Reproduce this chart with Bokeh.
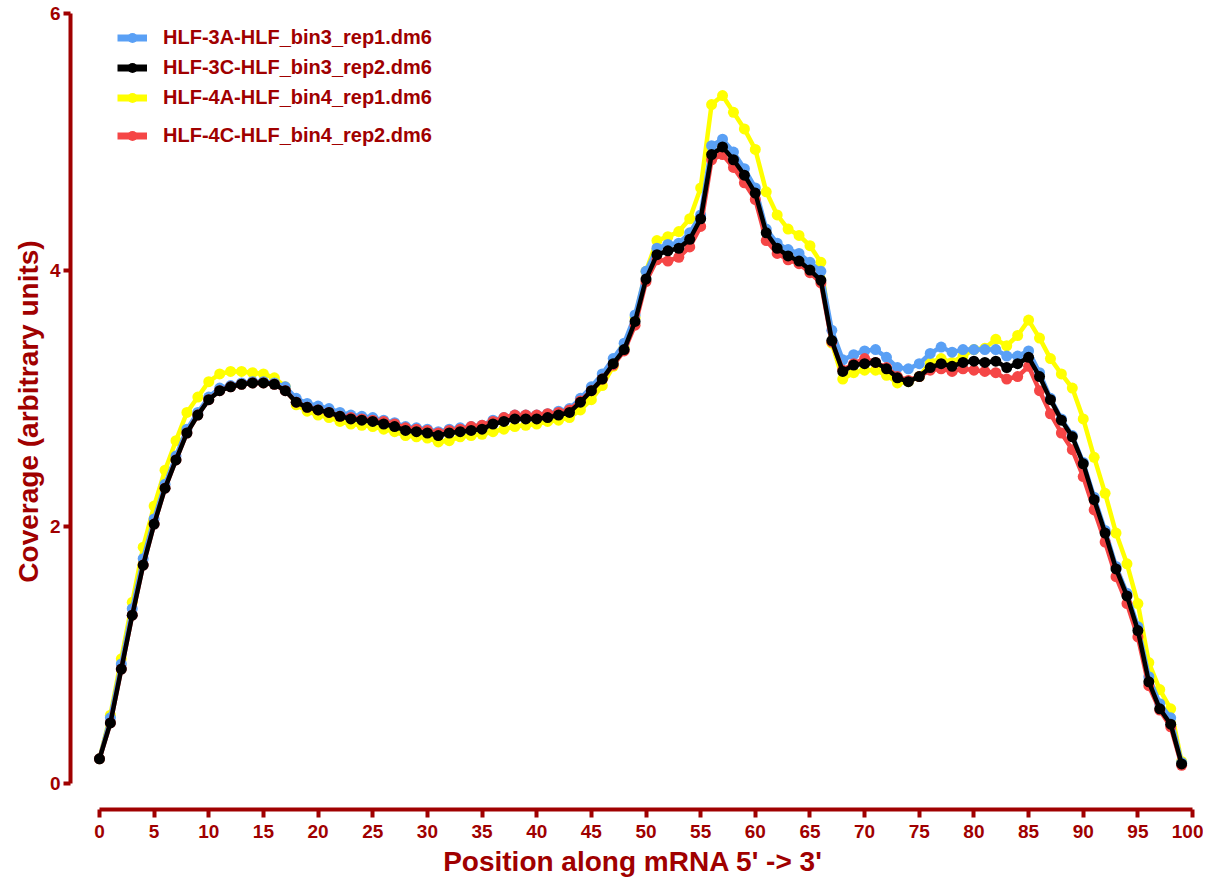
from bokeh.plotting import figure
from bokeh.models import Range1d, Legend, LegendItem, FixedTicker, ColumnDataSource
from bokeh.embed import file_html
from bokeh.resources import INLINE

positions = list(range(100))

names = ["HLF-3A-HLF_bin3_rep1.dm6", "HLF-3C-HLF_bin3_rep2.dm6",
         "HLF-4A-HLF_bin4_rep1.dm6", "HLF-4C-HLF_bin4_rep2.dm6"]

cov_3A = [0.19, 0.51, 0.93, 1.36, 1.75, 2.06, 2.33, 2.55, 2.76, 2.89,
          3.01, 3.08, 3.10, 3.12, 3.13, 3.13, 3.12, 3.09, 3.00, 2.96,
          2.94, 2.92, 2.89, 2.87, 2.86, 2.85, 2.83, 2.81, 2.78, 2.77,
          2.76, 2.74, 2.76, 2.77, 2.78, 2.79, 2.83, 2.85, 2.87, 2.87,
          2.87, 2.88, 2.90, 2.92, 3.00, 3.09, 3.19, 3.31, 3.43, 3.65,
          3.99, 4.17, 4.20, 4.21, 4.29, 4.43, 4.97, 5.02, 4.92, 4.79,
          4.64, 4.32, 4.21, 4.16, 4.13, 4.06, 3.99, 3.53, 3.30, 3.34,
          3.37, 3.38, 3.32, 3.24, 3.23, 3.27, 3.35, 3.40, 3.36, 3.38,
          3.38, 3.38, 3.38, 3.33, 3.33, 3.37, 3.20, 3.00, 2.84, 2.71,
          2.50, 2.23, 1.97, 1.69, 1.48, 1.22, 0.83, 0.62, 0.51, 0.16]

cov_3C = [0.19, 0.47, 0.89, 1.31, 1.70, 2.02, 2.30, 2.52, 2.73, 2.87,
          2.99, 3.06, 3.09, 3.11, 3.12, 3.12, 3.11, 3.06, 2.97, 2.93,
          2.91, 2.89, 2.86, 2.84, 2.83, 2.82, 2.80, 2.78, 2.75, 2.74,
          2.73, 2.71, 2.73, 2.74, 2.75, 2.76, 2.80, 2.82, 2.84, 2.84,
          2.84, 2.85, 2.87, 2.89, 2.97, 3.06, 3.15, 3.27, 3.38, 3.60,
          3.93, 4.12, 4.15, 4.17, 4.24, 4.40, 4.90, 4.96, 4.86, 4.74,
          4.60, 4.29, 4.17, 4.11, 4.07, 4.00, 3.92, 3.45, 3.21, 3.26,
          3.27, 3.28, 3.23, 3.16, 3.13, 3.17, 3.24, 3.27, 3.25, 3.28,
          3.29, 3.28, 3.29, 3.24, 3.27, 3.32, 3.17, 2.99, 2.83, 2.70,
          2.49, 2.21, 1.95, 1.67, 1.46, 1.19, 0.79, 0.58, 0.46, 0.15]

cov_4A = [0.19, 0.53, 0.97, 1.41, 1.84, 2.16, 2.44, 2.67, 2.89, 3.01,
          3.13, 3.19, 3.21, 3.21, 3.20, 3.19, 3.16, 3.09, 2.95, 2.90,
          2.87, 2.85, 2.82, 2.80, 2.79, 2.78, 2.76, 2.74, 2.71, 2.70,
          2.69, 2.66, 2.67, 2.70, 2.71, 2.72, 2.74, 2.76, 2.78, 2.79,
          2.80, 2.82, 2.83, 2.85, 2.91, 2.99, 3.10, 3.25, 3.40, 3.63,
          3.99, 4.23, 4.26, 4.30, 4.40, 4.64, 5.29, 5.36, 5.23, 5.10,
          4.94, 4.61, 4.43, 4.32, 4.27, 4.19, 4.06, 3.43, 3.15, 3.20,
          3.22, 3.22, 3.18, 3.12, 3.13, 3.17, 3.28, 3.31, 3.28, 3.33,
          3.38, 3.39, 3.46, 3.41, 3.49, 3.61, 3.47, 3.31, 3.19, 3.08,
          2.84, 2.54, 2.26, 1.95, 1.71, 1.40, 0.94, 0.73, 0.58, 0.17]

cov_4C = [0.19, 0.47, 0.89, 1.31, 1.70, 2.02, 2.30, 2.52, 2.73, 2.87,
          2.99, 3.06, 3.09, 3.11, 3.12, 3.12, 3.11, 3.06, 2.97, 2.93,
          2.91, 2.89, 2.86, 2.85, 2.84, 2.83, 2.82, 2.80, 2.77, 2.76,
          2.75, 2.73, 2.75, 2.76, 2.78, 2.79, 2.82, 2.85, 2.87, 2.87,
          2.87, 2.88, 2.89, 2.91, 2.98, 3.06, 3.15, 3.26, 3.37, 3.57,
          3.91, 4.08, 4.07, 4.10, 4.18, 4.34, 4.86, 4.90, 4.80, 4.68,
          4.55, 4.23, 4.13, 4.08, 4.05, 3.98, 3.90, 3.44, 3.22, 3.27,
          3.31, 3.28, 3.24, 3.17, 3.14, 3.17, 3.22, 3.23, 3.21, 3.23,
          3.22, 3.21, 3.20, 3.15, 3.17, 3.25, 3.06, 2.88, 2.73, 2.60,
          2.39, 2.13, 1.88, 1.61, 1.40, 1.14, 0.76, 0.57, 0.44, 0.14]

x_ticks = list(range(0, 101, 5))
y_ticks = [0, 2, 4, 6]

colors = ["#5AA0F5", "#000000", "#FFFF00", "#F54646"]
series = [cov_3A, cov_3C, cov_4A, cov_4C]

AX = "#A00000"
FONT = "Liberation Sans"

p = figure(frame_width=1125, frame_height=796,
           x_range=Range1d(-2.65, 100.27), y_range=Range1d(-0.205, 6.0),
           output_backend="svg", toolbar_location=None,
           min_border_left=70, min_border_top=13, min_border_right=8,
           min_border_bottom=70)
p.outline_line_color = None
p.grid.visible = False
p.background_fill_color = "white"
p.border_fill_color = "white"

# draw order: yellow, blue, red, black on top
for idx in [2, 0, 3, 1]:
    src = ColumnDataSource(dict(x=positions, y=series[idx]))
    p.line("x", "y", source=src, line_color=colors[idx], line_width=4.5)
    p.scatter("x", "y", source=src, size=11, fill_color=colors[idx],
              line_color=colors[idx], line_width=0)

# legend proxies (single NaN point, never drawn in the plot area)
items = []
for i in range(4):
    src = ColumnDataSource(dict(x=[float("nan")], y=[float("nan")]))
    lr = p.line("x", "y", source=src, line_color=colors[i], line_width=7)
    sr = p.scatter("x", "y", source=src, size=10, fill_color=colors[i],
                   line_color=colors[i], line_width=0)
    items.append(LegendItem(label=names[i], renderers=[lr, sr]))


def make_legend(its, loc):
    lg = Legend(items=its, location=loc, orientation="vertical")
    lg.padding = 0
    lg.margin = 0
    lg.spacing = 5
    lg.glyph_width = 30
    lg.glyph_height = 25
    lg.label_height = 25
    lg.label_standoff = 16
    lg.label_text_font = FONT
    lg.label_text_font_style = "bold"
    lg.label_text_font_size = "20px"
    lg.label_text_color = AX
    lg.border_line_alpha = 0
    lg.background_fill_alpha = 0
    return lg


p.add_layout(make_legend(items[:3], (47, 699.5)))
p.add_layout(make_legend(items[3:], (47, 661.5)))

for ax in (p.xaxis[0], p.yaxis[0]):
    ax.axis_line_color = AX
    ax.axis_line_width = 4
    ax.major_tick_line_color = AX
    ax.major_tick_line_width = 4
    ax.minor_tick_line_color = None
    ax.major_tick_in = 0
    ax.major_label_text_color = AX
    ax.major_label_text_font = FONT
    ax.major_label_text_font_style = "bold"
    ax.major_label_text_font_size = "19px"
    ax.axis_label_text_color = AX
    ax.axis_label_text_font = FONT
    ax.axis_label_text_font_style = "bold"
    ax.axis_label_text_font_size = "28px"

p.xaxis[0].ticker = FixedTicker(ticks=x_ticks)
p.xaxis[0].bounds = (0, 100)
p.xaxis[0].major_tick_out = 8
p.xaxis[0].major_label_standoff = 7
p.xaxis[0].axis_label = "Position along mRNA 5' -> 3'"
p.xaxis[0].axis_label_standoff = 5

p.yaxis[0].ticker = FixedTicker(ticks=y_ticks)
p.yaxis[0].bounds = (0, 6)
p.yaxis[0].major_tick_out = 7
p.yaxis[0].major_label_standoff = 3
p.yaxis[0].axis_label = "Coverage (arbitrary units)"
p.yaxis[0].axis_label_standoff = 3

open("out.html", "w").write(file_html(p, INLINE))
